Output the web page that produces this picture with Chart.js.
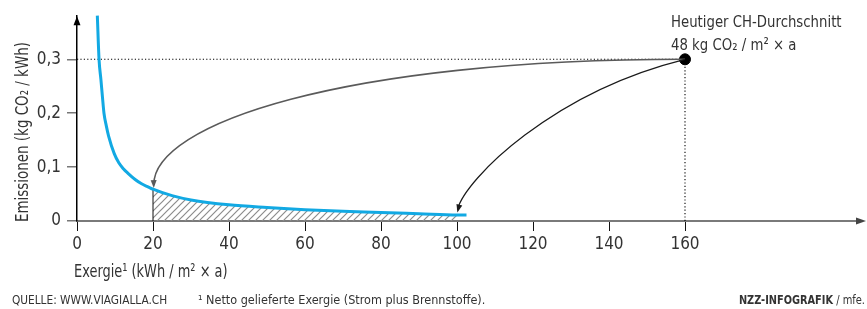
<!DOCTYPE html>
<html>
<head>
<meta charset="utf-8">
<script src="https://cdn.jsdelivr.net/npm/chart.js@4/dist/chart.umd.min.js"></script>
<style>
  html, body { margin: 0; padding: 0; background: #fff; }
</style>
</head>
<body>
<canvas id="chart" width="867" height="309"></canvas>
<script>
// values
var curveX = [5.35, 5.8, 6.3, 6.7, 7.1, 7.7, 8.3, 9.8, 11, 12.2, 13.5, 15.3, 17, 18.8, 20, 25, 30, 40, 50, 60, 70, 80, 90, 100, 102.5];
var curveY = [0.381, 0.3, 0.262, 0.23, 0.2, 0.177, 0.158, 0.125, 0.108, 0.097, 0.088, 0.077, 0.069, 0.063, 0.059, 0.047, 0.039, 0.030, 0.025, 0.021, 0.018, 0.016, 0.0135, 0.011, 0.011];

var hatchFrom = 20, hatchTo = 100;

var avgX = 160, avgY = 0.3;   // Heutiger CH-Durchschnitt

// curved arrows: start, two bend points, tip (in axis units)
var arrow1X = [160, 70, 20, 20.2];
var arrow1Y = [0.3, 0.3, 0.18, 0.061];
var arrow2X = [160, 125.2, 102.4, 100.1];
var arrow2Y = [0.3, 0.239, 0.079, 0.016];

var xTicks = [0, 20, 40, 60, 80, 100, 120, 140, 160];
var yTicks = [0, 0.1, 0.2, 0.3];
var yTickLabels = ['0', '0,1', '0,2', '0,3'];

var FONT = "'DejaVu Sans Condensed', 'Liberation Sans Narrow', sans-serif";

function pts(xs, ys) {
    return xs.map(function(x, i) { return { x: x, y: ys[i] }; });
}

function hatchPattern() {
    var s = 7, c = document.createElement('canvas');
    c.width = s; c.height = s;
    var g = c.getContext('2d');
    g.strokeStyle = '#8c8c8c';
    g.lineWidth = 1.2;
    g.beginPath();
    g.moveTo(0, s); g.lineTo(s, 0);
    g.moveTo(-1, 1); g.lineTo(1, -1);
    g.moveTo(s - 1, s + 1); g.lineTo(s + 1, s - 1);
    g.stroke();
    return document.getElementById('chart').getContext('2d').createPattern(c, 'repeat');
}

var hatchPts = pts(curveX, curveY).filter(function(p) { return p.x >= hatchFrom && p.x <= hatchTo; });
var y20 = curveY[curveX.indexOf(hatchFrom)];

// text squeezed sideways to come near the narrow face of the original
function squeezed(ctx, text, x, y, font, sx, align) {
    ctx.save();
    ctx.font = font;
    ctx.textAlign = align || 'left';
    ctx.translate(x, y);
    ctx.scale(sx, 1);
    ctx.fillText(text, 0, 0);
    var w = ctx.measureText(text).width * sx;
    ctx.restore();
    return w;
}

var extras = {
    id: 'extras',
    afterDatasetsDraw: function(chart) {
        var ctx = chart.ctx;
        var xs = chart.scales.x, ys = chart.scales.y;
        [[arrow1X, arrow1Y, '#5a5a5a', 1.6], [arrow2X, arrow2Y, '#1a1a1a', 1.2]].forEach(function(d) {
            var p = d[0].map(function(v, i) {
                return [xs.getPixelForValue(v), ys.getPixelForValue(d[1][i])];
            });
            ctx.save();
            ctx.strokeStyle = d[2];
            ctx.lineWidth = d[3];
            ctx.beginPath();
            ctx.moveTo(p[0][0], p[0][1]);
            ctx.bezierCurveTo(p[1][0], p[1][1], p[2][0], p[2][1], p[3][0], p[3][1] - 3);
            ctx.stroke();
            var ang = Math.atan2(p[3][1] - p[2][1], p[3][0] - p[2][0]);
            ctx.translate(p[3][0], p[3][1]);
            ctx.rotate(ang);
            ctx.fillStyle = d[2];
            ctx.beginPath();
            ctx.moveTo(0, 0);
            ctx.lineTo(-8, -3);
            ctx.lineTo(-8, 3);
            ctx.closePath();
            ctx.fill();
            ctx.restore();
        });
    },
    afterDraw: function(chart) {
        var ctx = chart.ctx, a = chart.chartArea;
        var xs = chart.scales.x, ys = chart.scales.y;
        var x0 = xs.getPixelForValue(0), y0 = ys.getPixelForValue(0);
        ctx.save();
        // axis arrows
        ctx.fillStyle = '#000';
        ctx.beginPath();
        ctx.moveTo(x0, a.top);
        ctx.lineTo(x0 - 3.5, a.top + 9);
        ctx.lineTo(x0 + 3.5, a.top + 9);
        ctx.closePath();
        ctx.fill();
        ctx.fillStyle = '#444';
        ctx.beginPath();
        ctx.moveTo(a.right + 10, y0);
        ctx.lineTo(a.right, y0 - 3.5);
        ctx.lineTo(a.right, y0 + 3.5);
        ctx.closePath();
        ctx.fill();

        ctx.fillStyle = '#333';
        ctx.textBaseline = 'alphabetic';

        // axis titles
        squeezed(ctx, 'Exergie\u00b9 (kWh / m\u00b2 \u00d7 a)', 74, 277, '18px ' + FONT, 0.8);
        ctx.save();
        ctx.translate(27.5, 222);
        ctx.rotate(-Math.PI / 2);
        squeezed(ctx, 'Emissionen (kg CO\u2082 / kWh)', 0, 0, '18px ' + FONT, 0.83);
        ctx.restore();

        // label of the average point
        var px = xs.getPixelForValue(avgX), py = ys.getPixelForValue(avgY);
        squeezed(ctx, 'Heutiger CH-Durchschnitt', px - 14, py - 32, '16.5px ' + FONT, 0.895);
        squeezed(ctx, '48 kg CO\u2082 / m\u00b2 \u00d7 a', px - 14, py - 9.5, '16.5px ' + FONT, 0.895);

        // footer
        squeezed(ctx, 'QUELLE: WWW.VIAGIALLA.CH', 12, 304, '12.5px ' + FONT, 0.94);
        squeezed(ctx, '\u00b9 Netto gelieferte Exergie (Strom plus Brennstoffe).', 198, 304, '12.5px ' + FONT, 1);
        var w = squeezed(ctx, ' / mfe.', 865, 304, '12.5px ' + FONT, 0.88, 'right');
        squeezed(ctx, 'NZZ-INFOGRAFIK', 865 - w, 304, 'bold 12.5px ' + FONT, 0.87, 'right');
        ctx.restore();
    }
};

Chart.defaults.font.family = FONT;
Chart.defaults.color = '#333';

new Chart(document.getElementById('chart'), {
    type: 'scatter',
    data: {
        datasets: [
            {   // hatched area
                data: hatchPts, showLine: true, cubicInterpolationMode: 'monotone',
                borderWidth: 0, pointRadius: 0, fill: 'origin',
                backgroundColor: hatchPattern(), order: 9
            },
            {   // dotted horizontal
                data: [{ x: 0, y: avgY }, { x: avgX, y: avgY }], showLine: true,
                borderColor: '#000', borderWidth: 1.1, borderDash: [1.2, 2.2], pointRadius: 0, order: 8
            },
            {   // dotted vertical
                data: [{ x: avgX, y: 0 }, { x: avgX, y: avgY }], showLine: true,
                borderColor: '#000', borderWidth: 1.1, borderDash: [1.2, 2.2], pointRadius: 0, order: 8
            },
            {   // edge of the hatch
                data: [{ x: hatchFrom, y: 0 }, { x: hatchFrom, y: y20 }], showLine: true,
                borderColor: '#111', borderWidth: 1, pointRadius: 0, order: 7
            },
            {   // blue curve
                data: pts(curveX, curveY), showLine: true, cubicInterpolationMode: 'monotone',
                borderColor: '#12a9e3', borderWidth: 3, pointRadius: 0, clip: false, order: 3
            },
            {   // average point
                data: [{ x: avgX, y: avgY }], pointRadius: 5.5,
                backgroundColor: '#000', borderColor: '#000', order: 1
            }
        ]
    },
    options: {
        responsive: false,
        animation: false,
        events: [],
        layout: { padding: { top: 10, right: 11, left: 0, bottom: 0 } },
        plugins: { legend: { display: false }, tooltip: { enabled: false } },
        scales: {
            x: {
                type: 'linear', min: 0, max: 205,
                afterBuildTicks: function(s) { s.ticks = xTicks.map(function(v) { return { value: v }; }); },
                afterFit: function(s) { s.height = 88; },
                ticks: { font: { size: 17 }, color: '#333', padding: 3, maxRotation: 0, autoSkip: false },
                grid: { drawOnChartArea: false, tickLength: 10, color: '#111', lineWidth: 1 },
                border: { color: '#7a7a7a', width: 2 }
            },
            y: {
                type: 'linear', min: 0, max: 0.38,
                afterBuildTicks: function(s) { s.ticks = yTicks.map(function(v) { return { value: v }; }); },
                afterFit: function(s) { s.width = 77; },
                ticks: {
                    font: { size: 17 }, color: '#333', padding: 6, autoSkip: false,
                    callback: function(v, i) { return yTickLabels[i]; }
                },
                grid: { drawOnChartArea: false, tickLength: 10, color: '#777', lineWidth: 1.5 },
                border: { color: '#000', width: 1.5 }
            }
        }
    },
    plugins: [extras]
});
</script>
</body>
</html>
